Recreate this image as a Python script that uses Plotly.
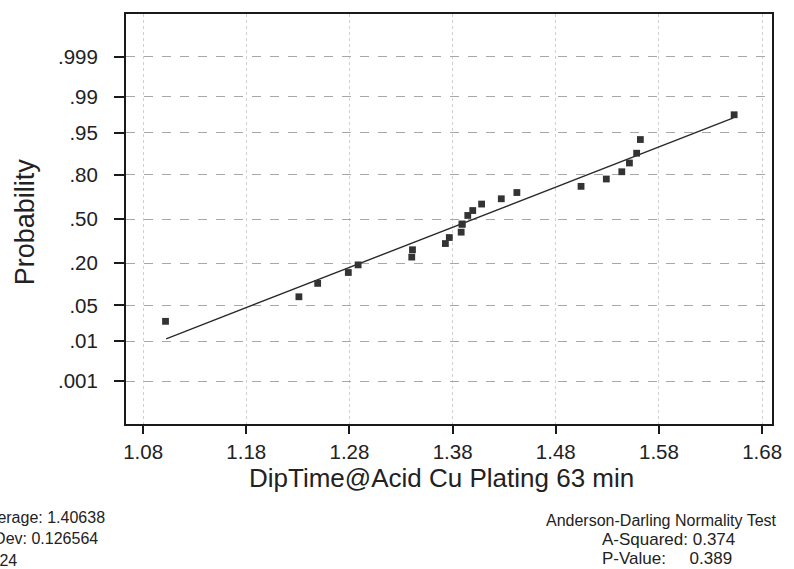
import plotly.graph_objects as go
from statistics import NormalDist

# ---- data ----
dip_time = [1.1017, 1.2310, 1.2492, 1.2789, 1.2884, 1.3404, 1.3411, 1.3730,
            1.3768, 1.3883, 1.3892, 1.3892, 1.3947, 1.3995, 1.4081, 1.4272,
            1.4423, 1.5045, 1.5290, 1.5440, 1.5514, 1.5584, 1.5620, 1.6529]
probability = [0.0256, 0.0692, 0.110, 0.154, 0.191, 0.234, 0.279, 0.320,
               0.362, 0.401, 0.461, 0.461, 0.527, 0.564, 0.612, 0.650,
               0.693, 0.733, 0.777, 0.816, 0.857, 0.895, 0.935, 0.9765]
fit_x = [1.1023, 1.6522]
fit_p = [0.0112, 0.973]

x_ticks = [1.08, 1.18, 1.28, 1.38, 1.48, 1.58, 1.68]
x_tick_labels = ["1.08", "1.18", "1.28", "1.38", "1.48", "1.58", "1.68"]
y_tick_probs = [0.001, 0.01, 0.05, 0.20, 0.50, 0.80, 0.95, 0.99, 0.999]
y_tick_labels = [".001", ".01", ".05", ".20", ".50", ".80", ".95", ".99", ".999"]

stats_left = ["Average: 1.40638", "StDev: 0.126564", "N: 24"]
stats_right_title = "Anderson-Darling Normality Test"
stats_right = ["A-Squared: 0.374", "P-Value:\u00a0\u00a0\u00a0\u00a0\u00a00.389"]

# ---- probability (normal) scale ----
nd = NormalDist()
def to_z(ps):
    return [nd.inv_cdf(p) for p in ps]

W, H = 794, 569
L, R, T, B = 126, 14, 14, 145
PW, PH = W - L - R, H - T - B

def px(x):
    return (x - L) / PW

def py(y):
    return (H - B - y) / PH

fig = go.Figure()
fig.add_trace(go.Scatter(x=fit_x, y=to_z(fit_p), mode="lines",
                         line=dict(color="#2a2a2a", width=1.4),
                         hoverinfo="skip", showlegend=False))
fig.add_trace(go.Scatter(x=dip_time, y=to_z(probability), mode="markers",
                         marker=dict(symbol="square", size=6.8, color="#333333",
                                     line=dict(width=0)),
                         showlegend=False))

font_main = "Liberation Sans, Arial, sans-serif"

fig.update_xaxes(range=[1.0634, 1.6896], tickvals=x_ticks, ticktext=x_tick_labels,
                 showline=True, linecolor="#1a1a1a", linewidth=2, mirror=True,
                 ticks="outside", ticklen=8, tickwidth=1.5, tickcolor="#1a1a1a",
                 showgrid=True, gridcolor="#d0d0d0", gridwidth=1, griddash="dot",
                 zeroline=False, ticklabelstandoff=0,
                 tickfont=dict(family=font_main, size=20.5, color="#222222"))
fig.update_yaxes(range=[-3.906, 3.906], tickvals=to_z(y_tick_probs), ticktext=y_tick_labels,
                 showline=True, linecolor="#1a1a1a", linewidth=2, mirror=True,
                 ticks="outside", ticklen=10, tickwidth=1.5, tickcolor="#1a1a1a",
                 showgrid=True, gridcolor="#a8a8a8", gridwidth=1, griddash="dash",
                 zeroline=False, ticklabelstandoff=12,
                 tickfont=dict(family=font_main, size=20.5, color="#222222"))

ann = []
ann.append(dict(text="DipTime@Acid Cu Plating 63 min", x=px(445), y=py(478),
                xref="paper", yref="paper", xanchor="center", yanchor="middle",
                showarrow=False, font=dict(family=font_main, size=26, color="#222222")))
ann.append(dict(text="Probability", x=px(24), y=py(222), textangle=-90,
                xref="paper", yref="paper", xanchor="center", yanchor="middle",
                showarrow=False, font=dict(family=font_main, size=27, color="#222222")))
for t, yy in zip(stats_left, [517, 538, 560]):
    ann.append(dict(text=t, x=px(-25), y=py(yy), xref="paper", yref="paper",
                    xanchor="left", yanchor="middle", showarrow=False,
                    font=dict(family=font_main, size=16, color="#222222")))
ann.append(dict(text=stats_right_title, x=px(668), y=py(520), xref="paper", yref="paper",
                xanchor="center", yanchor="middle", showarrow=False,
                font=dict(family=font_main, size=16, color="#222222")))
for t, yy in zip(stats_right, [539.5, 558.5]):
    ann.append(dict(text=t, x=px(606), y=py(yy), xref="paper", yref="paper",
                    xanchor="left", yanchor="middle", showarrow=False,
                    font=dict(family=font_main, size=17, color="#222222")))

fig.update_layout(width=W, height=H, margin=dict(l=L, r=R, t=T, b=B, pad=0),
                  paper_bgcolor="white", plot_bgcolor="white",
                  annotations=ann, showlegend=False)

fig.write_html("out.html")
